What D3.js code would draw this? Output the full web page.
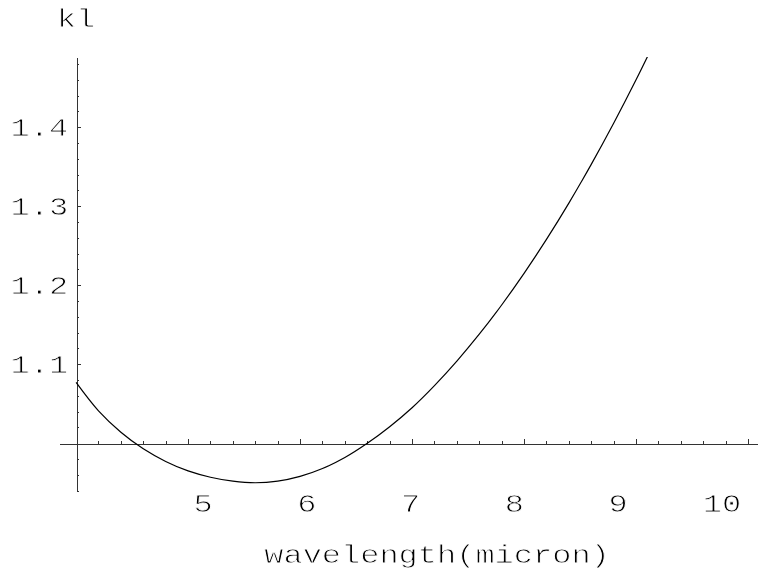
<!DOCTYPE html>
<html>
<head>
<meta charset="utf-8">
<script src="https://cdn.jsdelivr.net/npm/d3@7"></script>
<style>
  html, body { margin: 0; padding: 0; background: #fff; }
  svg { display: block; }
  text {
    font-family: "Liberation Mono", "DejaVu Sans Mono", monospace;
    fill: #000;
    stroke: #fff;
    stroke-width: 0.8px;
    paint-order: fill;
  }
</style>
</head>
<body>
<svg id="chart" width="758" height="573"></svg>
<script>
// Extinction coefficient kl against wavelength (micron)
const wavelength = [4.0, 4.2, 4.4, 4.6, 4.8, 5.0, 5.2, 5.4, 5.6, 5.8, 6.0, 6.2, 6.4,
                    6.6, 6.8, 7.0, 7.2, 7.4, 7.6, 7.8, 8.0, 8.2, 8.4, 8.6, 8.8, 9.0, 9.2];
const kl = [1.077, 1.041, 1.014, 0.993, 0.977, 0.965, 0.957, 0.952, 0.950, 0.952, 0.958,
            0.968, 0.982, 1.000, 1.021, 1.045, 1.073, 1.104, 1.138, 1.175, 1.215, 1.258,
            1.304, 1.353, 1.405, 1.460, 1.518];

const xTickValues = [5, 6, 7, 8, 9, 10];
const xTickLabels = ["5", "6", "7", "8", "9", "10"];
const yTickValues = [1.1, 1.2, 1.3, 1.4];
const yTickLabels = ["1.1", "1.2", "1.3", "1.4"];

const xLabel = "wavelength(micron)";
const yLabel = "kl";

// plot range and axes origin
const xDomain = [3.85, 10.08];
const yDomain = [0.9387, 1.488];
const origin = { x: 4.0, y: 1.0 };

const svg = d3.select("#chart");
const fontSize = 25;
const stretch = 1.28;   // wide monospace lettering

// grayscale rasterisation for the lettering
svg.append("filter").attr("id", "flat")
  .append("feOffset").attr("dx", 0).attr("dy", 0);

const x = d3.scaleLinear().domain(xDomain).range([59.3, 757]);
const y = d3.scaleLinear().domain(yDomain).range([491.7, 57.7]);
// tick labels sit on a slightly narrower row than the ticks themselves
const xLabelPos = d3.scaleLinear().domain([5, 10]).range([203, 722]);

const axisColor = "#333";

// x axis with minor ticks every 0.2 and major ticks at integers
const xMinor = d3.range(42, 101, 2).map(v => v / 10);
const gx = svg.append("g").attr("transform", `translate(0,${Math.round(y(origin.y)) + 0.5})`);
gx.call(d3.axisTop(x).tickValues(xMinor).tickSize(2.7).tickSizeOuter(0).tickFormat(""));
gx.append("g").call(d3.axisTop(x).tickValues(xTickValues).tickSize(4.5).tickFormat(""))
  .select(".domain").remove();

// y axis with minor ticks every 0.02
const yMinor = d3.range(94, 149, 2).map(v => v / 100).filter(v => Math.abs(v - 1) > 1e-9);
const gy = svg.append("g").attr("transform", `translate(${Math.round(x(origin.x)) + 0.5},0)`);
gy.call(d3.axisRight(y).tickValues(yMinor).tickSize(2.7).tickSizeOuter(0).tickFormat(""));
gy.append("g").call(d3.axisRight(y).tickValues(yTickValues).tickSize(4.5).tickFormat(""))
  .select(".domain").remove();

svg.selectAll(".domain, .tick line")
  .attr("stroke", axisColor).attr("stroke-width", 1).attr("shape-rendering", "crispEdges");

function stretchedText(sel, px, py, anchor) {
  sel.attr("x", 0).attr("y", 0)
     .attr("text-anchor", anchor)
     .attr("font-size", fontSize)
     .attr("transform", `translate(${px},${py}) scale(${stretch},1)`);
}

const labels = svg.append("g").attr("filter", "url(#flat)");

// tick labels
labels.append("g").selectAll("text").data(xTickValues).join("text")
  .text((d, i) => xTickLabels[i])
  .each(function (d) { stretchedText(d3.select(this), xLabelPos(d), 511.7, "middle"); });

labels.append("g").selectAll("text").data(yTickValues).join("text")
  .text((d, i) => yTickLabels[i])
  .each(function (d) { stretchedText(d3.select(this), x(origin.x) - 8, y(d) + 9, "end"); });

// axis titles
labels.append("text").text(yLabel)
  .call(s => stretchedText(s, x(origin.x), 27.3, "middle"));
labels.append("text").text(xLabel)
  .call(s => stretchedText(s, 437, 562.7, "middle"));

// curve, clipped to the plot range
svg.append("clipPath").attr("id", "plotArea")
  .append("rect")
  .attr("x", x(xDomain[0])).attr("y", y(yDomain[1]))
  .attr("width", x(xDomain[1]) - x(xDomain[0]))
  .attr("height", y(yDomain[0]) - y(yDomain[1]));

const points = wavelength.map((w, i) => [w, kl[i]]);
svg.append("path")
  .datum(points)
  .attr("clip-path", "url(#plotArea)")
  .attr("fill", "none")
  .attr("stroke", "#000")
  .attr("stroke-width", 1.2)
  .attr("d", d3.line().x(d => x(d[0])).y(d => y(d[1])).curve(d3.curveCatmullRom));
</script>
</body>
</html>
